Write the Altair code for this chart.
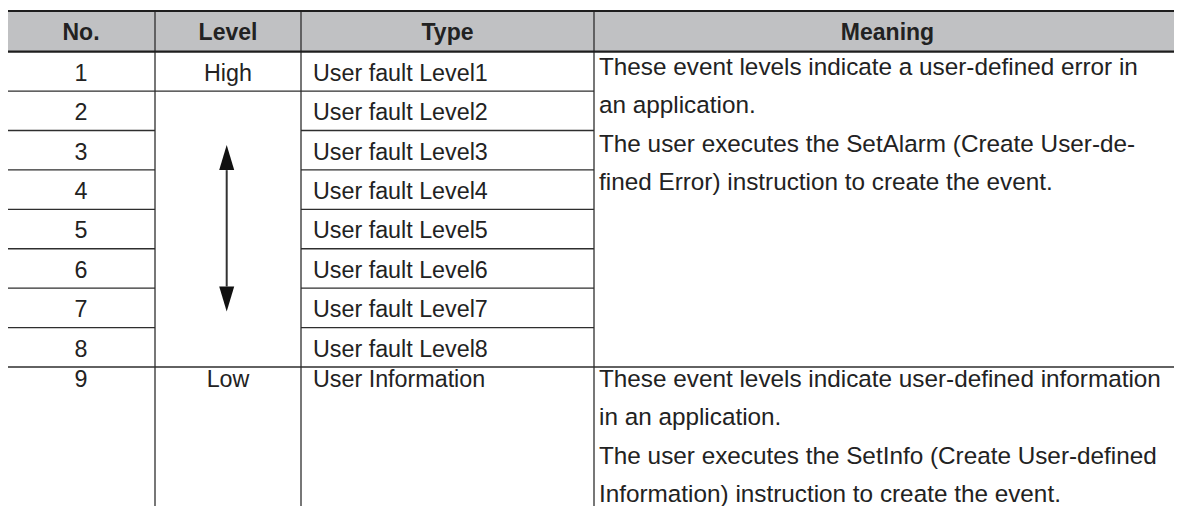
import altair as alt
import pandas as pd

# ---------------- content ----------------
headers = ["No.", "Level", "Type", "Meaning"]
numbers = ["1", "2", "3", "4", "5", "6", "7", "8", "9"]
level_high = "High"
level_low = "Low"
types = [
    "User fault Level1", "User fault Level2", "User fault Level3",
    "User fault Level4", "User fault Level5", "User fault Level6",
    "User fault Level7", "User fault Level8", "User Information",
]
meaning_fault = [
    "These event levels indicate a user-defined error in",
    "an application.",
    "The user executes the SetAlarm (Create User-de-",
    "fined Error) instruction to create the event.",
]
meaning_info = [
    "These event levels indicate user-defined information",
    "in an application.",
    "The user executes the SetInfo (Create User-defined",
    "Information) instruction to create the event.",
]

# ---------------- layout (page pixels) ----------------
col_edges = [7, 155, 301, 594, 1181]
header_top = 11.0
header_bottom = 51.7
row_h = 39.41
n_fault = 8
page_bottom = 506
line_gap = 38.3

INK = "#222222"
LINE = "#2e2e2e"
FONT = "Liberation Sans"

W, H = 1166, 498

row_edges = [header_bottom + k * row_h for k in range(n_fault + 1)]
last_top = row_edges[-1]
centers = [(col_edges[i] + col_edges[i + 1]) / 2 for i in range(4)]

xs = alt.Scale(domain=[8, 8 + W], nice=False, zero=False)
ys = alt.Scale(domain=[8 + H, 8], nice=False, zero=False)


def X(f="x"):
    return alt.X(f"{f}:Q", scale=xs, axis=None)


def Y(f="y"):
    return alt.Y(f"{f}:Q", scale=ys, axis=None)


# header background
hdr_bg = pd.DataFrame([{"x": col_edges[0], "x2": col_edges[-1],
                        "y": header_top, "y2": header_bottom}])
bg = alt.Chart(hdr_bg).mark_rect(color="#c0c1c3").encode(
    x=X(), x2="x2:Q", y=Y(), y2="y2:Q")

# thick header rules
thick = pd.DataFrame([
    {"x": col_edges[0], "x2": col_edges[-1], "y": header_top, "y2": header_top},
    {"x": col_edges[0], "x2": col_edges[-1], "y": header_bottom, "y2": header_bottom},
])
thick_rules = alt.Chart(thick).mark_rule(color="#1e1e1e", strokeWidth=2.2).encode(
    x=X(), x2="x2:Q", y=Y(), y2="y2:Q")

# thin rules
segs = []
for k in range(1, n_fault):
    yk = row_edges[k]
    segs.append({"x": col_edges[0], "x2": col_edges[1], "y": yk, "y2": yk})
    segs.append({"x": col_edges[2], "x2": col_edges[3], "y": yk, "y2": yk})
    if k == 1:
        segs.append({"x": col_edges[1], "x2": col_edges[2], "y": yk, "y2": yk})
segs.append({"x": col_edges[0], "x2": col_edges[-1], "y": last_top, "y2": last_top})
for xe in col_edges[1:4]:
    segs.append({"x": xe, "x2": xe, "y": header_top - 1, "y2": page_bottom})
thin_rules = alt.Chart(pd.DataFrame(segs)).mark_rule(color=LINE, strokeWidth=1.3).encode(
    x=X(), x2="x2:Q", y=Y(), y2="y2:Q")

# header text
hdr_txt = pd.DataFrame({"x": centers, "y": [40.2] * 4, "t": headers})
header_text = alt.Chart(hdr_txt).mark_text(
    font=FONT, fontSize=23, fontWeight="bold", color=INK, align="center",
    baseline="alphabetic").encode(x=X(), y=Y(), text="t:N")

# body rows baselines
base_fault = [(row_edges[k] + row_edges[k + 1]) / 2 + 9.3 for k in range(n_fault)]
base_last = last_top + 20
baselines = base_fault + [base_last]

no_df = pd.DataFrame({"x": [centers[0]] * 9, "y": baselines, "t": numbers})
no_text = alt.Chart(no_df).mark_text(
    font=FONT, fontSize=23.3, color=INK, align="center", baseline="alphabetic"
).encode(x=X(), y=Y(), text="t:N")

lvl_df = pd.DataFrame({"x": [centers[1]] * 2, "y": [baselines[0], base_last],
                       "t": [level_high, level_low]})
lvl_text = alt.Chart(lvl_df).mark_text(
    font=FONT, fontSize=23.3, color=INK, align="center", baseline="alphabetic"
).encode(x=X(), y=Y(), text="t:N")

type_df = pd.DataFrame({"x": [col_edges[2] + 12] * 9, "y": baselines, "t": types})
type_text = alt.Chart(type_df).mark_text(
    font=FONT, fontSize=23.3, color=INK, align="left", baseline="alphabetic"
).encode(x=X(), y=Y(), text="t:N")

m_rows = []
for i, s in enumerate(meaning_fault):
    m_rows.append({"x": col_edges[3] + 5, "y": row_edges[0] + 23.3 + i * line_gap, "t": s})
for i, s in enumerate(meaning_info):
    m_rows.append({"x": col_edges[3] + 5, "y": last_top + 20 + i * line_gap, "t": s})
meaning_text = alt.Chart(pd.DataFrame(m_rows)).mark_text(
    font=FONT, fontSize=24.3, color=INK, align="left", baseline="alphabetic"
).encode(x=X(), y=Y(), text="t:N")

# arrow in the Level column (rows 2-8)
ax = centers[1] - 1.3
tip_top = row_edges[1] + 54
tip_bot = row_edges[n_fault] - 55.5
head = 25
shaft = pd.DataFrame([{"x": ax, "y": tip_top + head, "y2": tip_bot - head}])
shaft_rule = alt.Chart(shaft).mark_rule(color="#333333", strokeWidth=2).encode(
    x=X(), y=Y(), y2="y2:Q")
up = pd.DataFrame([{"x": ax, "y": tip_top + head / 2}])
down = pd.DataFrame([{"x": ax, "y": tip_bot - head / 2}])
up_head = alt.Chart(up).mark_point(
    shape="M0,-1L0.6,1L-0.6,1Z", size=head * head, filled=True, opacity=1,
    color="#111111", strokeWidth=0).encode(x=X(), y=Y())
down_head = alt.Chart(down).mark_point(
    shape="M0,1L0.6,-1L-0.6,-1Z", size=head * head, filled=True, opacity=1,
    color="#111111", strokeWidth=0).encode(x=X(), y=Y())

chart = alt.layer(
    bg, thin_rules, thick_rules, header_text, no_text, lvl_text, type_text,
    meaning_text, shaft_rule, up_head, down_head
).properties(
    width=W, height=H, padding=0, autosize="none", background="white"
).configure_view(stroke=None)

chart.save("out.html", embed_options={"renderer": "svg", "actions": False})
